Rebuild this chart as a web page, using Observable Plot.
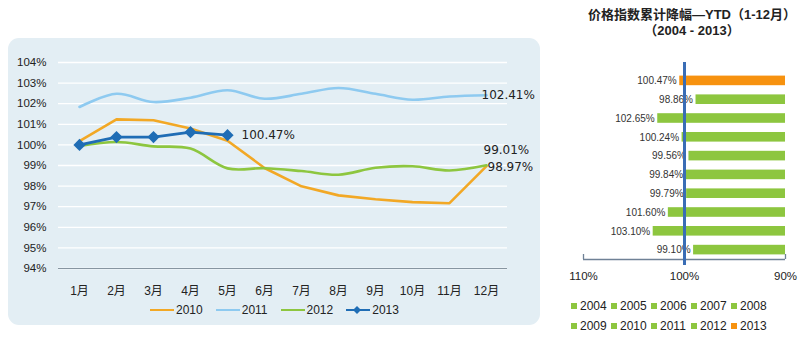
<!DOCTYPE html>
<html><head><meta charset="utf-8">
<script src="https://cdn.jsdelivr.net/npm/d3@7"></script>
<script src="https://cdn.jsdelivr.net/npm/@observablehq/plot@0.6"></script>
<style>
body{margin:0;background:#fff;}
#root{position:relative;width:800px;height:338px;overflow:hidden;font-family:"Liberation Sans","Noto Sans CJK SC",sans-serif;color:#222;}
#panel{position:absolute;left:8px;top:38px;width:532px;height:287px;background:#e3eef4;border-radius:11px;}
#left{position:absolute;left:8px;top:40px;}
#right{position:absolute;left:560px;top:50px;}
.title{position:absolute;left:572px;width:240px;text-align:center;font-weight:bold;font-size:13px;font-family:"Liberation Sans","Noto Sans CJK SC",sans-serif;color:#222;}
.leg{position:absolute;display:flex;align-items:center;font-size:12px;white-space:nowrap;}
.leg span{display:inline-flex;align-items:center;}
</style></head>
<body><div id="root">
<div id="panel"></div>
<div id="left"></div>
<div class="title" style="top:4px">价格指数累计降幅—YTD（1-12月）</div>
<div class="title" style="top:20px">（2004 - 2013）</div>
<div id="right"></div>
<div id="legL" class="leg" style="left:150px;top:303px;"></div>
<div id="legR1" class="leg" style="left:570px;top:299px;"></div>
<div id="legR2" class="leg" style="left:570px;top:319px;"></div>
</div>
<script>
const months = ["1月","2月","3月","4月","5月","6月","7月","8月","9月","10月","11月","12月"];
const seriesNames = ["2010","2011","2012","2013"];
const seriesColors = ["#f2a825","#8ecaf0","#8dc63f","#1f6db5"];
const v2010 = [100.18,101.24,101.2,100.8,100.2,98.88,97.99,97.55,97.36,97.22,97.17,98.97];
const v2011 = [101.84,102.48,102.08,102.29,102.65,102.24,102.48,102.76,102.48,102.19,102.35,102.41];
const v2012 = [99.95,100.14,99.93,99.82,98.86,98.87,98.73,98.55,98.89,98.96,98.76,99.01];
const v2013 = [100,100.38,100.38,100.62,100.47];
const yTicks = [94,95,96,97,98,99,100,101,102,103,104];
const endLabels = [
  {series:"2013", text:"100.47%"},
  {series:"2011", text:"102.41%"},
  {series:"2012", text:"99.01%"},
  {series:"2010", text:"98.97%"}
];

const years = ["2004","2005","2006","2007","2008","2009","2010","2011","2012","2013"];
const ytd = [99.10,103.10,101.60,99.79,99.84,99.56,100.24,102.65,98.86,100.47];
const ytdLabels = ["99.10%","103.10%","101.60%","99.79%","99.84%","99.56%","100.24%","102.65%","98.86%","100.47%"];
const yearColors = ["#8dc63f","#8dc63f","#8dc63f","#8dc63f","#8dc63f","#8dc63f","#8dc63f","#8dc63f","#8dc63f","#f7920f"];
const xTicksR = [110,100,90];

const allVals = {"2010":v2010,"2011":v2011,"2012":v2012,"2013":v2013};
const rows = [];
for (const s of seriesNames) allVals[s].forEach((v,i)=>rows.push({series:s, month:months[i], value:v}));
const rowsOf = s => rows.filter(r=>r.series===s);
const lastOf = s => { const r = rowsOf(s); return r[r.length-1]; };
const col = s => seriesColors[seriesNames.indexOf(s)];
const lab = s => endLabels.find(e=>e.series===s).text;

const font = '"Liberation Sans","Noto Sans CJK SC",sans-serif';
const left = Plot.plot({
  width:532, height:285, marginLeft:50, marginRight:33, marginTop:22, marginBottom:57,
  style:{background:"transparent", fontFamily:font, fontSize:"11.5px", color:"#222", overflow:"visible"},
  x:{type:"point", domain:months, padding:0.5, label:null},
  y:{domain:[94,104], label:null},
  marks:[
    Plot.gridY(yTicks, {stroke:"#ffffff", strokeOpacity:1, strokeWidth:1.3}),
    Plot.ruleY([94], {stroke:"#8795a0", strokeWidth:1}),
    Plot.axisY(yTicks, {tickSize:0, tickPadding:12, tickFormat:d=>d+"%", fontSize:11.5}),
    Plot.axisX({tickSize:0, tickPadding:18, fontSize:12}),
    Plot.line(rowsOf("2010"), {x:"month", y:"value", stroke:col("2010"), strokeWidth:2.6}),
    Plot.line(rowsOf("2011"), {x:"month", y:"value", stroke:col("2011"), strokeWidth:2.6, curve:"catmull-rom"}),
    Plot.line(rowsOf("2012"), {x:"month", y:"value", stroke:col("2012"), strokeWidth:2.6, curve:"catmull-rom"}),
    Plot.line(rowsOf("2013"), {x:"month", y:"value", stroke:col("2013"), strokeWidth:2.8}),
    Plot.dot(rowsOf("2013"), {x:"month", y:"value", fill:col("2013"), symbol:"diamond2", r:5.5, stroke:null}),
    Plot.text([lastOf("2013")], {x:"month", y:"value", text:()=>lab("2013"), textAnchor:"start", dx:14, fontSize:12, fontFamily:"DejaVu Sans", fill:"#222"}),
    Plot.text([lastOf("2011")], {x:"month", y:"value", text:()=>lab("2011"), textAnchor:"start", dx:-5, fontSize:12, fontFamily:"DejaVu Sans", fill:"#222"}),
    Plot.text([lastOf("2012")], {x:"month", y:"value", text:()=>lab("2012"), textAnchor:"start", dx:-3, dy:-15, fontSize:12, fontFamily:"DejaVu Sans", fill:"#222"}),
    Plot.text([lastOf("2010")], {x:"month", y:"value", text:()=>lab("2010"), textAnchor:"start", dx:1, dy:1, fontSize:12, fontFamily:"DejaVu Sans", fill:"#222"})
  ]
});
document.getElementById("left").appendChild(left);

// right chart: each year occupies one unit slot on a linear y scale (2004 at bottom)
const bars = years.map((y,i)=>({year:y, value:ytd[i], label:ytdLabels[i], slot:i}));
const right = Plot.plot({
  width:240, height:240, marginLeft:23, marginRight:15, marginTop:21, marginBottom:31,
  style:{background:"transparent", fontFamily:font, fontSize:"11.5px", color:"#222", overflow:"visible"},
  x:{domain:[110,90], label:null},
  y:{domain:[0, years.length], axis:null},
  color:{domain:years, range:yearColors},
  marks:[
    Plot.ruleY([0], {stroke:"#6f8196", strokeWidth:1.3}),
    Plot.axisX(xTicksR, {tickSize:-5, tickPadding:17, tickFormat:d=>d+"%", stroke:"#6f8196", strokeWidth:1.3, fontSize:11.5}),
    Plot.rectX(bars, {x1:"value", x2:90, y1:"slot", y2:d=>d.slot+1, fill:"year", insetTop:4.6, insetBottom:4.6}),
    Plot.text(bars, {x:"value", y:d=>d.slot+0.5, text:"label", textAnchor:"end", dx:-3, fontSize:10, fill:"#333"}),
    Plot.ruleX([100], {stroke:"#3a6db5", strokeWidth:3, insetTop:-9, insetBottom:-6})
  ]
});
document.getElementById("right").appendChild(right);

// legends
const legL = document.getElementById("legL");
seriesNames.forEach((s,i)=>{
  const sp = document.createElement("span");
  sp.style.marginRight = "13px";
  const marker = s==="2013" ? `<path d="M11,-4 L15,0 L11,4 L7,0Z" fill="${col(s)}"/>` : "";
  sp.innerHTML = `<svg width="25" height="10" style="overflow:visible"><g transform="translate(0,5)"><line x1="0" x2="24" y1="0" y2="0" stroke="${col(s)}" stroke-width="2"/>${marker}</g></svg><span style="margin-left:1px">${s}</span>`;
  legL.appendChild(sp);
});
function legRow(el, idxs){
  idxs.forEach(i=>{
    const sp = document.createElement("span");
    sp.style.width = "40px";
    sp.innerHTML = `<svg width="8" height="8" style="margin-right:2px"><rect x="1" y="1" width="6" height="6" fill="${yearColors[i]}"/></svg>${years[i]}`;
    el.appendChild(sp);
  });
}
legRow(document.getElementById("legR1"), [0,1,2,3,4]);
legRow(document.getElementById("legR2"), [5,6,7,8,9]);
</script>
</body></html>
